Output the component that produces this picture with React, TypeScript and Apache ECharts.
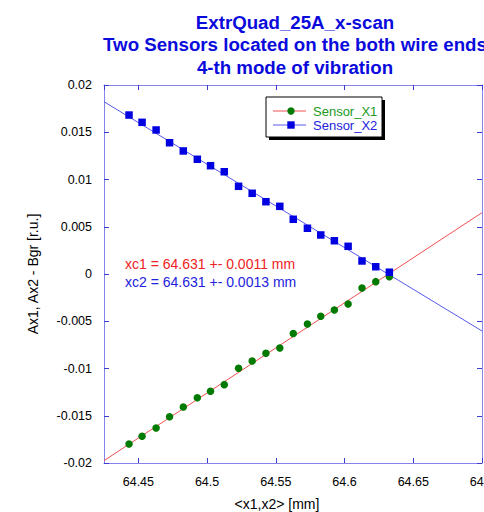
import React, { useEffect, useRef } from "react";
import * as echarts from "echarts";

const titleLines = [
  "ExtrQuad_25A_x-scan",
  "Two Sensors located on the both wire ends",
  "4-th mode of vibration",
];
const xName = "<x1,x2> [mm]";
const yName = "Ax1, Ax2 - Bgr [r.u.]";
const seriesNames = ["Sensor_X1", "Sensor_X2"];
const notes = ["xc1 = 64.631 +- 0.0011 mm", "xc2 = 64.631 +- 0.0013 mm"];

const xPos = [
  64.4432, 64.4527, 64.4629, 64.4727, 64.4827, 64.4929, 64.5025, 64.5125, 64.5229, 64.5328,
  64.5428, 64.5529, 64.5627, 64.573, 64.5827, 64.5926, 64.6026, 64.6127, 64.6227, 64.6326,
];
const sensorX1 = [
  -0.01799, -0.01717, -0.01629, -0.0151, -0.01407, -0.01309, -0.01241, -0.01171, -0.00998, -0.0092,
  -0.00839, -0.00783, -0.0063, -0.00529, -0.00448, -0.00381, -0.00317, -0.00148, -0.00081, -0.00029,
];
const sensorX2 = [
  0.01682, 0.01605, 0.01524, 0.01389, 0.01302, 0.01214, 0.01146, 0.01082, 0.00928, 0.00854,
  0.00765, 0.00716, 0.00579, 0.00484, 0.00413, 0.00352, 0.00293, 0.00138, 0.00077, 0.00019,
];
const fitX = [64.425, 64.7];
const fitX1 = [-0.01975, 0.00649];
const fitX2 = [0.01823, -0.00603];

const xMin = 64.425;
const xMax = 64.7;
const yMin = -0.02;
const yMax = 0.02;
const yStep = 0.005;

const FONT = "Arial, 'Liberation Sans', sans-serif";
const FRAME = "#8484ea";
const TICK = "#3c3cd4";
const GREEN = "#007a00";
const BLUE = "#0000e0";
const RED_LINE = "#f05050";
const BLUE_LINE = "#5858ee";

export default function App() {
  const ref = useRef<HTMLDivElement>(null);
  useEffect(() => {
    if (!ref.current) return;
    const chart = echarts.init(ref.current, null, { renderer: "svg" });
    const gl = 104, gt = 85, gw = 378, gh = 378;
    const axisCommon = {
      type: "value" as const,
      axisLine: { show: true, onZero: false, lineStyle: { color: FRAME, width: 1 } },
      axisTick: { show: true, inside: true, length: 5, lineStyle: { color: TICK, width: 1 } },
      splitLine: { show: false },
    };
    const legendX = 266, legendY = 97, legendW = 116, legendH = 40;
    chart.setOption({
      animation: false,
      backgroundColor: "#ffffff",
      title: {
        text: titleLines.join("\n"),
        left: 290,
        top: 6,
        textAlign: "center",
        textStyle: {
          fontFamily: FONT,
          fontSize: 18.7,
          fontWeight: "bold",
          color: "#0a0adc",
          lineHeight: 22.5,
        },
      },
      grid: {
        left: gl,
        top: gt,
        width: gw,
        height: gh,
        containLabel: false,
        outerBoundsMode: "none",
      },
      xAxis: [
        {
          ...axisCommon,
          position: "bottom",
          min: xMin,
          max: xMax,
          name: xName,
          nameLocation: "middle",
          nameGap: 34,
          nameTextStyle: { fontFamily: FONT, fontSize: 14, color: "#000", padding: [0, 32, 0, 0] },
          axisLabel: {
            showMinLabel: false,
            margin: 12,
            fontFamily: FONT,
            fontSize: 12.5,
            color: "#000",
            formatter: (v: number) => String(+v.toFixed(3)),
          },
        },
        {
          ...axisCommon,
          position: "top",
          min: xMin,
          max: xMax,
          axisLabel: { show: false },
        },
      ],
      yAxis: [
        {
          ...axisCommon,
          position: "left",
          min: yMin,
          max: yMax,
          interval: yStep,
          name: yName,
          nameLocation: "middle",
          nameGap: 64,
          nameRotate: 90,
          nameTextStyle: { fontFamily: FONT, fontSize: 14, color: "#000" },
          axisLabel: {
            margin: 12,
            fontFamily: FONT,
            fontSize: 12.5,
            color: "#000",
            formatter: (v: number) => String(+v.toFixed(4)),
          },
        },
        {
          ...axisCommon,
          position: "right",
          min: yMin,
          max: yMax,
          interval: yStep,
          axisLabel: { show: false },
        },
      ],
      series: [
        {
          name: seriesNames[0] + " fit",
          type: "line",
          data: fitX.map((x, i) => [x, fitX1[i]]),
          showSymbol: false,
          lineStyle: { color: RED_LINE, width: 1 },
          z: 1,
        },
        {
          name: seriesNames[1] + " fit",
          type: "line",
          data: fitX.map((x, i) => [x, fitX2[i]]),
          showSymbol: false,
          lineStyle: { color: BLUE_LINE, width: 1 },
          z: 1,
        },
        {
          name: seriesNames[0],
          type: "scatter",
          data: xPos.map((x, i) => [x, sensorX1[i]]),
          symbol: "circle",
          symbolSize: 7.5,
          itemStyle: { color: GREEN, opacity: 1 },
          z: 3,
        },
        {
          name: seriesNames[1],
          type: "scatter",
          data: xPos.map((x, i) => [x, sensorX2[i]]),
          symbol: "rect",
          symbolSize: 7.5,
          itemStyle: { color: BLUE, opacity: 1 },
          z: 3,
        },
      ],
      graphic: [
        {
          type: "rect",
          shape: { x: legendX + 3, y: legendY + 3, width: legendW, height: legendH },
          style: { fill: "#000" },
          z: 10,
        },
        {
          type: "rect",
          shape: { x: legendX, y: legendY, width: legendW, height: legendH },
          style: { fill: "#fff", stroke: "#000", lineWidth: 1 },
          z: 11,
        },
        {
          type: "line",
          shape: { x1: legendX + 7, y1: 111, x2: legendX + 40, y2: 111 },
          style: { stroke: RED_LINE, lineWidth: 1 },
          z: 12,
        },
        {
          type: "circle",
          shape: { cx: legendX + 25, cy: 111, r: 3.7 },
          style: { fill: GREEN },
          z: 13,
        },
        {
          type: "line",
          shape: { x1: legendX + 7, y1: 125, x2: legendX + 40, y2: 125 },
          style: { stroke: BLUE_LINE, lineWidth: 1 },
          z: 12,
        },
        {
          type: "rect",
          shape: { x: legendX + 21.3, y: 121.3, width: 7.4, height: 7.4 },
          style: { fill: BLUE },
          z: 13,
        },
        {
          type: "text",
          x: 313,
          y: 111,
          style: {
            text: seriesNames[0],
            fill: "#229922",
            font: `13px ${FONT}`,
            textVerticalAlign: "middle",
          },
          z: 13,
        },
        {
          type: "text",
          x: 313,
          y: 125,
          style: {
            text: seriesNames[1],
            fill: "#2222dd",
            font: `13px ${FONT}`,
            textVerticalAlign: "middle",
          },
          z: 13,
        },
        {
          type: "text",
          x: 125,
          y: 264,
          style: {
            text: notes[0],
            fill: "#ee2222",
            font: `14px ${FONT}`,
            textVerticalAlign: "middle",
          },
          z: 13,
        },
        {
          type: "text",
          x: 125,
          y: 282,
          style: {
            text: notes[1],
            fill: "#2222dd",
            font: `14px ${FONT}`,
            textVerticalAlign: "middle",
          },
          z: 13,
        },
      ],
    });
    return () => chart.dispose();
  }, []);
  return <div ref={ref} style={{ width: 484, height: 512, position: "absolute", left: 0, top: 0 }} />;
}
